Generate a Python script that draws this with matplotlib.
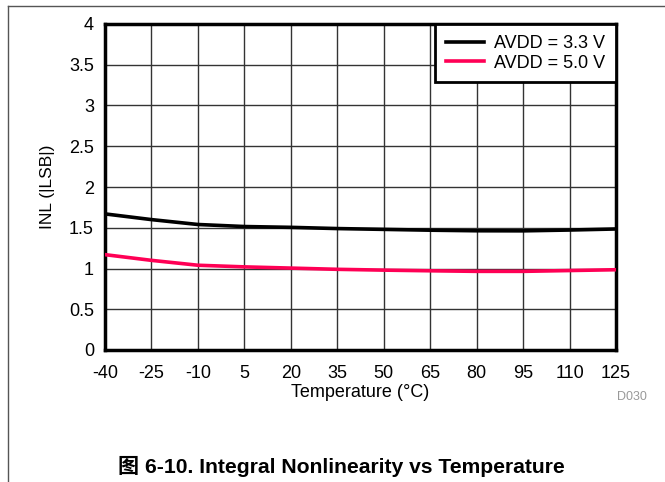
import numpy as np
import matplotlib.pyplot as plt
from matplotlib.lines import Line2D

temp = [-40, -25, -10, 5, 20, 35, 50, 65, 80, 95, 110, 125]
inl_33 = [1.67, 1.60, 1.54, 1.515, 1.505, 1.49, 1.48, 1.47, 1.463, 1.462, 1.472, 1.485]
inl_50 = [1.17, 1.10, 1.04, 1.02, 1.005, 0.99, 0.98, 0.972, 0.965, 0.965, 0.975, 0.985]
xticks = temp
yticks = [0, 0.5, 1, 1.5, 2, 2.5, 3, 3.5, 4]
ytick_labels = ['0', '0.5', '1', '1.5', '2', '2.5', '3', '3.5', '4']

plt.rcParams['font.family'] = ['Liberation Sans', 'DejaVu Sans']
plt.rcParams['axes.unicode_minus'] = False

fig = plt.figure(figsize=(6.65, 4.82), dpi=100)
ax = fig.add_axes([105/665, 1-350/482, (616-105)/665, (350-24)/482])

ax.plot(temp, inl_33, color='black', lw=2.6, label='AVDD = 3.3 V', zorder=3)
ax.plot(temp, inl_50, color='#FF0055', lw=2.6, label='AVDD = 5.0 V', zorder=3)

ax.set_xlim(-40, 125)
ax.set_ylim(0, 4)
ax.set_xticks(xticks)
ax.set_yticks(yticks)
ax.set_yticklabels(ytick_labels)
ax.tick_params(axis='x', length=0, labelsize=13, pad=11)
ax.tick_params(axis='y', length=0, labelsize=13, pad=8)
ax.grid(True, color='#333333', lw=1)
for s in ax.spines.values():
    s.set_linewidth(2.5)
ax.set_xlabel('Temperature (°C)', fontsize=13, labelpad=1)
ax.set_ylabel('INL (|LSB|)', fontsize=12.5, labelpad=10)

leg = ax.legend(loc='upper right', fontsize=13, frameon=True, fancybox=False,
                borderaxespad=0, handlelength=2.1, handletextpad=0.55,
                labelspacing=0.15, borderpad=0.6)
leg.get_frame().set_edgecolor('black')
leg.get_frame().set_linewidth(2)
leg.get_frame().set_alpha(1)

fig.text(617/665, 1-397/482, 'D030', fontsize=9, color='#999999', va='center')

fig.text(341/665, 1-466/482, '图 6-10. Integral Nonlinearity vs Temperature',
         fontsize=15.2, fontweight='bold', ha='center', va='center',
         family=['Liberation Sans', 'Noto Sans CJK SC'])

# page frame lines
fig.add_artist(Line2D([8/665, 1], [1-6/482, 1-6/482], color='#555555', lw=1))
fig.add_artist(Line2D([8/665, 8/665], [0, 1-6/482], color='#555555', lw=1))

fig.savefig('out.png', dpi=100)
